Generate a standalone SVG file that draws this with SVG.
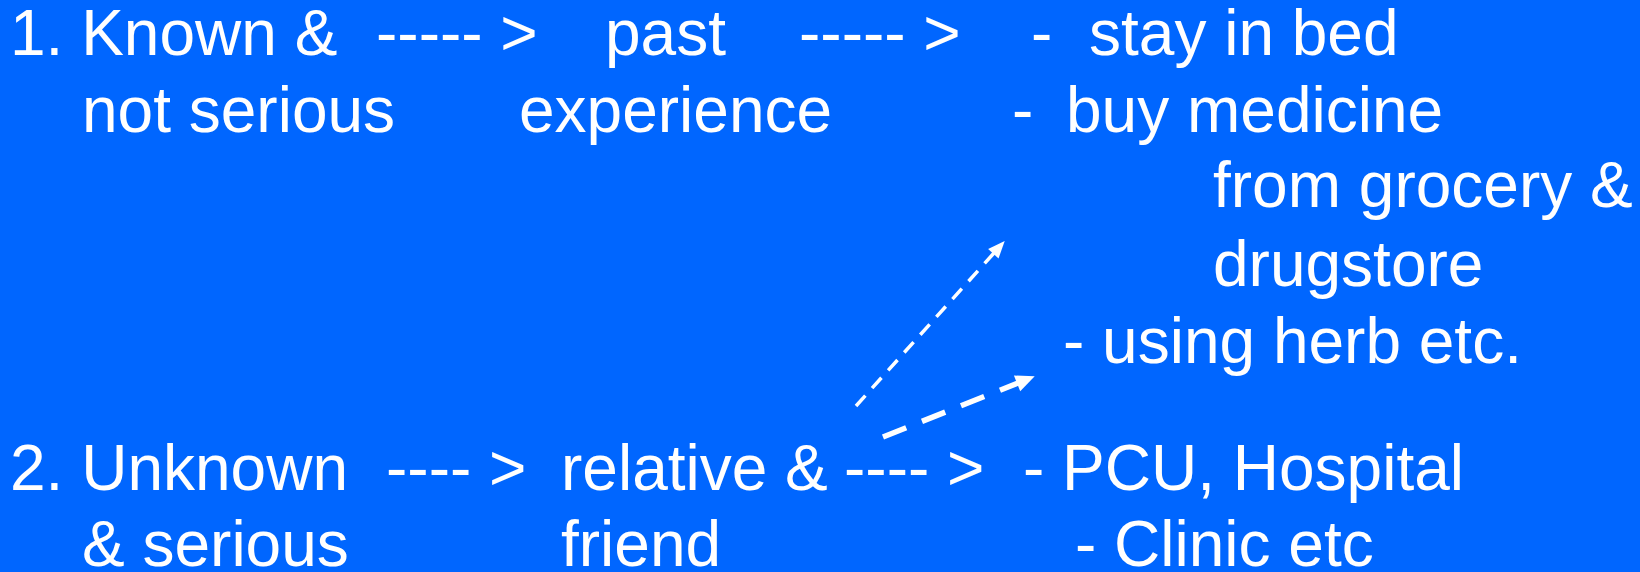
<svg xmlns="http://www.w3.org/2000/svg" width="1640" height="572" viewBox="0 0 1640 572">
<style>
text{font-family:"Liberation Sans",Arial,sans-serif;font-size:64px;fill:#fff}
.c1{fill:none;stroke:#fff;stroke-width:3.5;stroke-dasharray:14 10}
.c2{fill:none;stroke:#fff;stroke-width:5.5;stroke-dasharray:25 17}
</style>
<defs>
<marker id="h1" markerUnits="userSpaceOnUse" markerWidth="20" markerHeight="16" refX="1" refY="7" orient="auto" overflow="visible"><path d="M0,0 L17,7 L0,14 z" fill="#fff"/></marker>
<marker id="h2" markerUnits="userSpaceOnUse" markerWidth="22" markerHeight="18" refX="1" refY="8.5" orient="auto" overflow="visible"><path d="M0,0 L19,8.5 L0,17 z" fill="#fff"/></marker>
</defs>
<rect width="1640" height="572" fill="#0066FF"/>
<g id="n1"><text x="10" y="55">1. Known &amp;</text><text x="82" y="132">not serious</text></g>
<g id="a1"><text x="376" y="55">----- &gt;</text></g>
<g id="n2"><text x="605" y="55">past</text><text x="519" y="132">experience</text></g>
<g id="a2"><text x="799" y="55">----- &gt;</text></g>
<g id="n3">
<text x="1031" y="55">-</text><text x="1089" y="55">stay in bed</text>
<text x="1012" y="132">-</text><text x="1066" y="132">buy medicine</text>
<text x="1213" y="207">from grocery &amp;</text>
<text x="1213" y="286">drugstore</text>
<text x="1063" y="363">- using herb etc.</text>
</g>
<g id="n4"><text x="10" y="490">2. Unknown</text><text x="82" y="566">&amp; serious</text></g>
<g id="a3"><text x="386" y="490">---- &gt;</text></g>
<g id="n5"><text x="561" y="490">relative &amp;</text><text x="561" y="566">friend</text></g>
<g id="a4"><text x="844" y="490">---- &gt;</text></g>
<g id="n6"><text x="1023" y="490">- PCU, Hospital</text><text x="1075" y="566">- Clinic etc</text></g>
<g id="connectors">
<path class="c1" d="M856,406 L994,253" marker-end="url(#h1)"/>
<path class="c2" d="M883,437 L1018,383" marker-end="url(#h2)"/>
</g>
</svg>
